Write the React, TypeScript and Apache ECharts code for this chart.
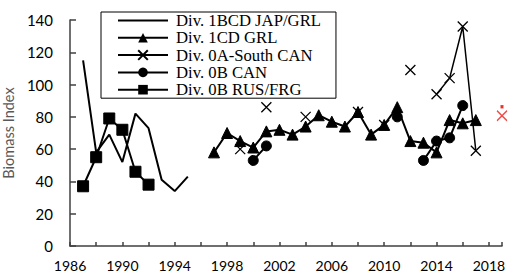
import React, { useEffect, useRef } from "react";
import * as echarts from "echarts";

const yearsJAP = [1987, 1988, 1989, 1990, 1991, 1992, 1993, 1994, 1995];
const valsJAP = [115, 58, 69, 52, 82, 73, 41, 34, 43];

const yearsGRL = [1997, 1998, 1999, 2000, 2001, 2002, 2003, 2004, 2005, 2006, 2007, 2008, 2009, 2010, 2011, 2012, 2013, 2014, 2015, 2016, 2017];
const valsGRL = [58, 70, 65, 61, 71, 72, 69, 74, 81, 77, 74, 83, 69, 75, 86, 65, 64, 58, 78, 76, 78];

const yearsSouth = [1999, 2000, 2001, 2002, 2003, 2004, 2005, 2006, 2007, 2008, 2009, 2010, 2011, 2012, 2013, 2014, 2015, 2016, 2017];
const valsSouth: (number | null)[] = [60, null, 86, null, null, 80, null, null, null, 83, null, 75, null, 109, null, 94, 104, 136, 59];

const yearsCAN = [2000, 2001, 2002, 2003, 2004, 2005, 2006, 2007, 2008, 2009, 2010, 2011, 2012, 2013, 2014, 2015, 2016];
const valsCAN: (number | null)[] = [53, 62, null, null, null, null, null, null, null, null, null, 80, null, 53, 65, 67, 87];

const yearsRUS = [1987, 1988, 1989, 1990, 1991, 1992];
const valsRUS = [37, 55, 79, 72, 46, 38];

const yearsRed = [2019];
const valsRed = [81];

const seriesNames = [
  "Div. 1BCD JAP/GRL",
  "Div. 1CD GRL",
  "Div. 0A-South CAN",
  "Div. 0B CAN",
  "Div. 0B RUS/FRG",
];

const pairs = (ys: number[], vs: (number | null)[]) =>
  ys.map((y, i) => [y, vs[i] === null ? "-" : vs[i]]);

const CROSS = "path://M0,0L10,10M10,0L0,10";
const RED_MARK = "path://M0,5L10,15M10,5L0,15M4,0L6,0L6,2L4,2Z";

export default function App() {
  const ref = useRef<HTMLDivElement>(null);
  useEffect(() => {
    document.body.style.margin = "0";
    if (!ref.current) return;
    const chart = echarts.init(ref.current, null, { renderer: "svg" });
    const lineBase = {
      type: "line",
      connectNulls: false,
      clip: false,
      color: "#000",
      lineStyle: { color: "#000", width: 2 },
      itemStyle: { color: "#000", borderColor: "#000" },
    };
    chart.setOption({
      animation: false,
      grid: { left: 70, right: 8, top: 20, bottom: 29, containLabel: false, outerBoundsMode: "none" },
      legend: {
        data: [
          { name: seriesNames[0], itemStyle: { color: "rgba(0,0,0,0)", borderWidth: 0, opacity: 0 } },
          seriesNames[1],
          seriesNames[2],
          seriesNames[3],
          seriesNames[4],
        ],
        orient: "vertical",
        left: 101,
        top: 12,
        itemWidth: 50,
        itemHeight: 12,
        itemGap: 0.3,
        padding: [0, 15, 0, 16],
        borderColor: "#000",
        borderWidth: 1,
        textStyle: {
          fontFamily: "Liberation Serif",
          fontSize: 16.7,
          lineHeight: 17,
          color: "#000",
          padding: [0, 0, 0, 3],
        },
      },
      xAxis: {
        type: "value",
        min: 1986,
        max: 2019,
        interval: 2,
        splitLine: { show: false },
        axisLine: { lineStyle: { color: "#404040", width: 1.5 } },
        axisTick: { inside: true, length: 4, lineStyle: { color: "#404040", width: 1.5 } },
        axisLabel: {
          margin: 12,
          fontFamily: "Lato",
          fontSize: 14,
          color: "#000",
          formatter: (v: number) => ((v - 1986) % 4 === 0 ? String(v) : ""),
        },
      },
      yAxis: {
        type: "value",
        min: 0,
        max: 140,
        interval: 20,
        name: "Biomass Index",
        nameLocation: "middle",
        nameGap: 54,
        nameTextStyle: { fontFamily: "Lato", fontSize: 14.5, color: "#595959" },
        splitLine: { show: false },
        axisLine: { show: true, lineStyle: { color: "#404040", width: 1.5 } },
        axisTick: { show: true, inside: true, length: 6, lineStyle: { color: "#404040", width: 1.5 } },
        axisLabel: { margin: 17, fontFamily: "Lato", fontSize: 15, color: "#000" },
      },
      series: [
        { ...lineBase, name: seriesNames[0], symbol: "none", data: pairs(yearsJAP, valsJAP) },
        { ...lineBase, name: seriesNames[1], symbol: "triangle", symbolSize: 11, data: pairs(yearsGRL, valsGRL) },
        {
          ...lineBase,
          name: seriesNames[2],
          symbol: CROSS,
          symbolSize: 10,
          lineStyle: { color: "#000", width: 1.5 },
          itemStyle: { color: "#000", borderColor: "#000", borderWidth: 1.3 },
          data: pairs(yearsSouth, valsSouth),
        },
        { ...lineBase, name: seriesNames[3], symbol: "circle", symbolSize: 10, data: pairs(yearsCAN, valsCAN) },
        { ...lineBase, name: seriesNames[4], symbol: "rect", symbolSize: 11, data: pairs(yearsRUS, valsRUS) },
        {
          type: "scatter",
          name: "red",
          clip: false,
          symbol: RED_MARK,
          symbolSize: [10, 15],
          symbolOffset: [0, -2],
          itemStyle: { color: "#e8201c", borderColor: "#e8201c", borderWidth: 1.3 },
          data: pairs(yearsRed, valsRed),
        },
      ],
    });
    return () => chart.dispose();
  }, []);
  return <div ref={ref} style={{ width: 510, height: 275 }} />;
}
